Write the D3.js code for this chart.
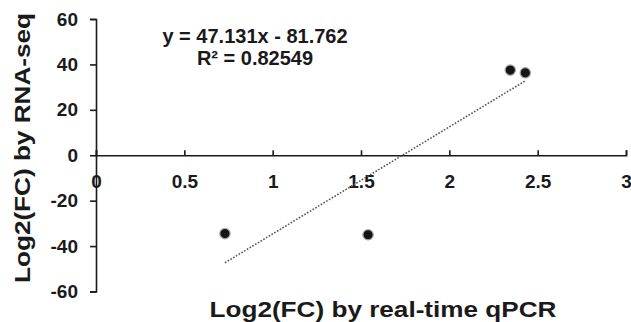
<!DOCTYPE html>
<html>
<head>
<meta charset="utf-8">
<script src="https://cdn.jsdelivr.net/npm/d3@7"></script>
<style>
  body { margin: 0; background: #fff; }
  text { font-family: Arial, "Liberation Sans", sans-serif; font-weight: bold; fill: #1a1a1a; }
</style>
</head>
<body>
<svg id="chart" width="631" height="322"></svg>
<script>
'use strict';

// data
const qpcr = [0.73, 1.54, 2.345, 2.43];
const rnaseq = [-34.5, -35, 37.5, 36.3];
const xTicks = [0, 0.5, 1, 1.5, 2, 2.5, 3];
const yTicks = [-60, -40, -20, 0, 20, 40, 60];
const slope = 47.131, intercept = -81.762;
const eqLabel = 'y = 47.131x - 81.762';
const r2Label = 'R\u00b2 = 0.82549';

const svg = d3.select('#chart');

const x = d3.scaleLinear().domain([0, 3]).range([96, 626]);
const y = d3.scaleLinear().domain([-60, 60]).range([291.5, 19]);

// y axis (ticks to the left), plain hyphen for negatives
const yAxis = svg.append('g')
	.attr('transform', `translate(${x(0)},0)`)
	.call(d3.axisLeft(y).tickValues(yTicks).tickSize(6).tickPadding(12).tickFormat(d => String(d)));
yAxis.selectAll('text').style('font-size', '19px');

// x axis along y = 0, ticks pointing up, labels below
const xAxis = svg.append('g')
	.attr('transform', `translate(0,${y(0)})`)
	.call(d3.axisBottom(x).tickValues(xTicks).tickSize(-5).tickPadding(0).tickFormat(d => d));
xAxis.selectAll('text').style('font-size', '19px').attr('y', 19);

svg.selectAll('.domain, .tick line')
	.attr('stroke', '#1a1a1a')
	.attr('stroke-width', 1.6);

// linear trendline over the data range
const x0 = d3.min(qpcr), x1 = d3.max(qpcr);
svg.append('line')
	.attr('x1', x(x0)).attr('y1', y(slope * x0 + intercept))
	.attr('x2', x(x1)).attr('y2', y(slope * x1 + intercept))
	.attr('stroke', '#555')
	.attr('stroke-width', 1.6)
	.attr('stroke-dasharray', '1.6,1.6');

// points
svg.selectAll('circle.pt')
	.data(qpcr)
	.enter().append('circle')
	.attr('class', 'pt')
	.attr('cx', d => x(d))
	.attr('cy', (d, i) => y(rnaseq[i]))
	.attr('r', 5.2)
	.attr('fill', '#151515')
	.attr('stroke', '#aaa')
	.attr('stroke-width', 1.2);

// equation
svg.append('text')
	.attr('x', 255).attr('y', 43)
	.attr('text-anchor', 'middle')
	.style('font-size', '20px')
	.text(eqLabel);
svg.append('text')
	.attr('x', 255).attr('y', 65)
	.attr('text-anchor', 'middle')
	.style('font-size', '20px')
	.text(r2Label);

// axis titles
svg.append('text')
	.attr('x', 383).attr('y', 317)
	.attr('text-anchor', 'middle')
	.attr('textLength', 347)
	.attr('lengthAdjust', 'spacingAndGlyphs')
	.style('font-size', '22px')
	.text('Log2(FC) by real-time qPCR');

svg.append('text')
	.attr('transform', 'translate(30,148) rotate(-90)')
	.attr('text-anchor', 'middle')
	.attr('textLength', 270)
	.attr('lengthAdjust', 'spacingAndGlyphs')
	.style('font-size', '22px')
	.text('Log2(FC) by RNA-seq');
</script>
</body>
</html>
